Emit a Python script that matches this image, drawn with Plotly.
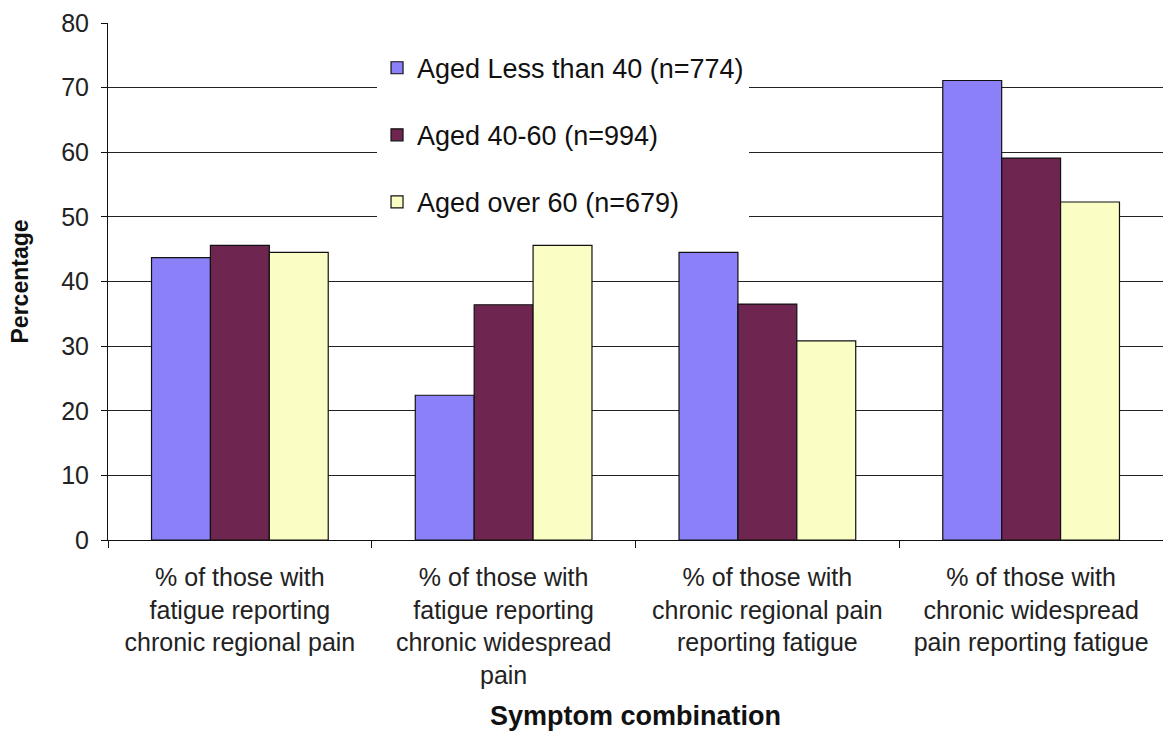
import plotly.graph_objects as go

categories = [
    "% of those with<br>fatigue reporting<br>chronic regional pain",
    "% of those with<br>fatigue reporting<br>chronic widespread<br>pain",
    "% of those with<br>chronic regional pain<br>reporting fatigue",
    "% of those with<br>chronic widespread<br>pain reporting fatigue",
]
series_names = ["Aged Less than 40 (n=774)", "Aged 40-60 (n=994)", "Aged over 60 (n=679)"]
under40 = [43.7, 22.4, 44.5, 71.1]
aged40_60 = [45.6, 36.4, 36.5, 59.1]
over60 = [44.5, 45.6, 30.8, 52.3]
colors = ["#8C80F8", "#6E2650", "#FAFDC4"]
yticks = [0, 10, 20, 30, 40, 50, 60, 70, 80]

FONT = "Liberation Sans, Arial, sans-serif"

fig = go.Figure()
for i, (name, vals) in enumerate(zip(series_names, [under40, aged40_60, over60])):
    fig.add_trace(go.Bar(
        x=categories, y=vals, name=name,
        marker=dict(color=colors[i], line=dict(color="#111111", width=1.2)),
        legendgroup=str(i),
    ))

fig.update_layout(
    width=1163, height=731,
    barmode="group", bargap=0.33, bargroupgap=0,
    plot_bgcolor="white", paper_bgcolor="white",
    margin=dict(l=108, r=0, t=23, b=191),
    font=dict(family=FONT, color="#222222", size=25),
    showlegend=True,
    legend=dict(
        x=0.255, y=0.96, xanchor="left", yanchor="top",
        bgcolor="white", borderwidth=0,
        font=dict(size=27, color="#111111"),
        tracegroupgap=29, traceorder="grouped",
        itemwidth=30,
    ),
    xaxis=dict(
        title=dict(text="<b>Symptom combination</b>", font=dict(size=27, color="#111111"), standoff=19),
        showline=True, linecolor="#111111", linewidth=1,
        ticks="outside", ticklen=7, tickcolor="#111111", tickson="boundaries",
        tickfont=dict(size=25, color="#222222"),
        ticklabelstandoff=15,
        showgrid=False,
    ),
    yaxis=dict(
        title=dict(text="<b>Percentage</b>", font=dict(size=23, color="#111111"), standoff=26),
        range=[0, 80], tickvals=yticks,
        showline=True, linecolor="#111111", linewidth=1,
        ticks="outside", ticklen=6, tickcolor="#111111",
        tickfont=dict(size=25, color="#222222"),
        ticklabelstandoff=7,
        showgrid=True, gridcolor="#222222", gridwidth=1,
        zeroline=False,
    ),
)

fig.write_html(
    "out.html",
    config={"displayModeBar": False},
    post_script="document.body.style.margin='0';document.body.style.overflow='hidden';",
)
